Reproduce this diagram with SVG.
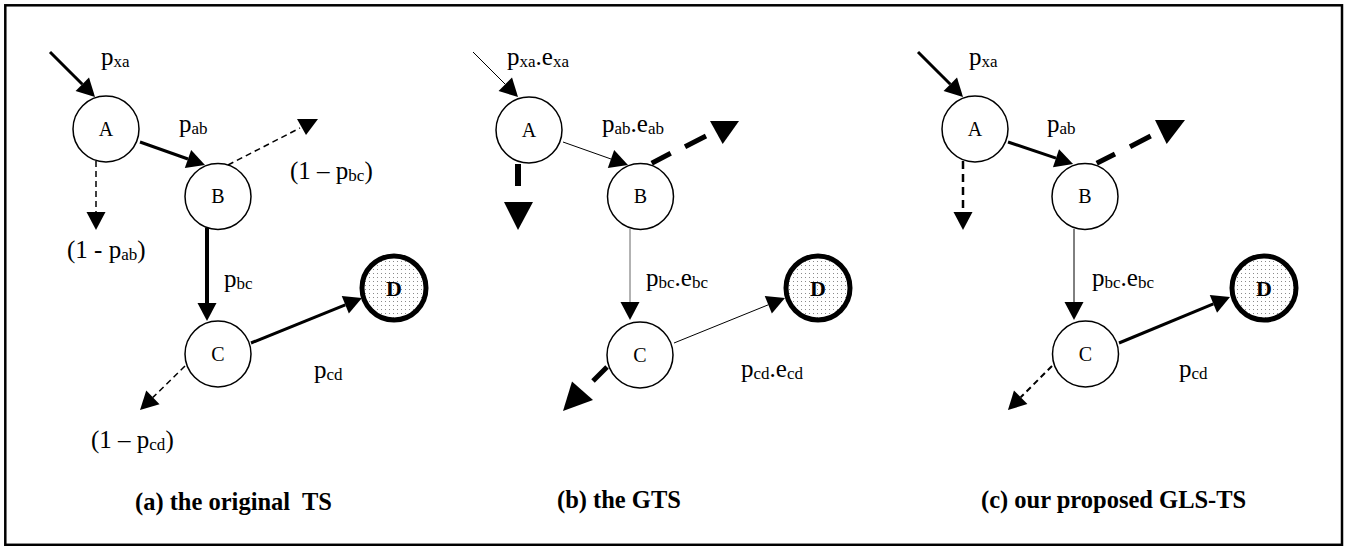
<svg xmlns="http://www.w3.org/2000/svg" width="1349" height="546" viewBox="0 0 1349 546">
<style>
.nd{fill:#fff;stroke:#000;stroke-width:1.5}
.fin{fill:url(#dots);stroke:#000;stroke-width:5}
.nl{font-family:"Liberation Serif","Times New Roman",serif;font-size:20px;fill:#000;text-anchor:middle}
.nlb{font-family:"Liberation Serif","Times New Roman",serif;font-size:22px;font-weight:bold;fill:#000;text-anchor:middle}
.lb{font-family:"Liberation Serif","Times New Roman",serif;font-size:25px;fill:#000}
.s{font-size:17px}
.cap{font-family:"Liberation Serif","Times New Roman",serif;font-size:24.5px;font-weight:bold;fill:#000}
.e{fill:none;stroke:#000}
.t1{stroke-width:1}
.t3{stroke-width:3}
.t4{stroke-width:4}
.t5{stroke-width:5}
.t6{stroke-width:6}
.d1{stroke-width:1.5;stroke-dasharray:6 4}
.d2{stroke-width:2.5;stroke-dasharray:8 5}
.ah{marker-end:url(#ah)}
.hd{fill:#000;stroke:none}
</style>
<defs>
<pattern id="dots" width="4" height="4" patternUnits="userSpaceOnUse">
<rect width="4" height="4" fill="#fff"/>
<rect x="1" y="1" width="1" height="1" fill="#8a8a8a"/>
</pattern>
<marker id="ah" markerUnits="userSpaceOnUse" markerWidth="18" markerHeight="19" refX="0" refY="9.5" orient="auto" overflow="visible">
<path d="M0,0 L18,9.5 L0,19 z" fill="#000"/>
</marker>
</defs>
<rect x="5.3" y="5.3" width="1336.7" height="539.5" fill="#fff" stroke="#000" stroke-width="2.5"/>

<g id="connectors">
<!-- panel a -->
<line class="e t3 ah" x1="50" y1="52" x2="82.3" y2="84.3"/>
<line class="e t3 ah" x1="140" y1="142" x2="188" y2="159"/>
<line class="e d1 ah" x1="96" y1="161" x2="96" y2="212"/>
<line class="e d1" x1="228" y1="165" x2="300" y2="128"/>
<polygon class="hd" points="297,119 318,119 306,135"/>
<line class="e t4 ah" x1="207" y1="228" x2="207" y2="303"/>
<line class="e t3 ah" x1="251" y1="343" x2="345.3" y2="304.8"/>
<line class="e d1 ah" x1="185" y1="366" x2="152.9" y2="397.4"/>
<!-- panel b -->
<line class="e t1 ah" x1="473" y1="52" x2="505.3" y2="84.3"/>
<line class="e t1 ah" x1="563" y1="142" x2="611" y2="159"/>
<line class="e t6" x1="518" y1="164" x2="518" y2="186"/>
<polygon class="hd" points="504,202 533,202 518,230"/>
<path class="e t5" d="M651.7,163.3 L670.7,153.3 M685,146.7 L706,136"/>
<polygon class="hd" points="710,121 739,121 722.7,144"/>
<line class="e t1 ah" x1="630" y1="229" x2="630" y2="302" style="stroke:#666"/>
<line class="e t1 ah" x1="674" y1="343" x2="768.3" y2="304.8"/>
<path class="e t5" d="M607,367 L593,381"/>
<polygon class="hd" points="572,381.5 593,400 563,411"/>
<!-- panel c -->
<line class="e t3 ah" x1="918" y1="52" x2="950.3" y2="84.3"/>
<line class="e t3 ah" x1="1008" y1="142" x2="1056" y2="158.2"/>
<line class="e d2 ah" x1="963" y1="161" x2="963" y2="212"/>
<path class="e t5" d="M1096.7,163.3 L1115,154 M1130,146.7 L1150.7,136"/>
<polygon class="hd" points="1155,120 1185,120 1166.7,144"/>
<line class="e t1 ah" x1="1074" y1="229" x2="1074" y2="302"/>
<line class="e t3 ah" x1="1119" y1="343" x2="1213.4" y2="303.9"/>
<line class="e ah" x1="1052" y1="366" x2="1020.7" y2="397.3" style="stroke-width:2;stroke-dasharray:6 4"/>
</g>

<!-- panel a nodes -->
<g id="a-A"><circle class="nd" cx="106" cy="129" r="33"/><text class="nl" x="106" y="135.5">A</text></g>
<g id="a-B"><circle class="nd" cx="218" cy="196.5" r="33"/><text class="nl" x="218" y="203">B</text></g>
<g id="a-C"><circle class="nd" cx="218" cy="354" r="33"/><text class="nl" x="218" y="360.5">C</text></g>
<g id="a-D"><circle class="fin" cx="394" cy="288" r="32"/><text class="nlb" x="394" y="295.5">D</text></g>
<!-- panel b nodes -->
<g id="b-A"><circle class="nd" cx="529" cy="130" r="33"/><text class="nl" x="529" y="136.5">A</text></g>
<g id="b-B"><circle class="nd" cx="640.5" cy="196.5" r="33"/><text class="nl" x="640.5" y="203">B</text></g>
<g id="b-C"><circle class="nd" cx="640" cy="355" r="33"/><text class="nl" x="640" y="361.5">C</text></g>
<g id="b-D"><circle class="fin" cx="818" cy="288" r="32"/><text class="nlb" x="818" y="295.5">D</text></g>
<!-- panel c nodes -->
<g id="c-A"><circle class="nd" cx="975" cy="129" r="33"/><text class="nl" x="975" y="135.5">A</text></g>
<g id="c-B"><circle class="nd" cx="1085" cy="196.5" r="33"/><text class="nl" x="1085" y="203">B</text></g>
<g id="c-C"><circle class="nd" cx="1085.5" cy="354" r="33"/><text class="nl" x="1085.5" y="360.5">C</text></g>
<g id="c-D"><circle class="fin" cx="1264" cy="288" r="32"/><text class="nlb" x="1264" y="295.5">D</text></g>

<g id="labels">
<!-- a -->
<text class="lb" x="101" y="65">p<tspan class="s" dy="2">xa</tspan></text>
<text class="lb" x="179" y="132">p<tspan class="s" dy="2">ab</tspan></text>
<text class="lb" x="290" y="179">(1 – p<tspan class="s" dy="2">bc</tspan><tspan dy="-2">)</tspan></text>
<text class="lb" x="67" y="258">(1 - p<tspan class="s" dy="2">ab</tspan><tspan dy="-2">)</tspan></text>
<text class="lb" x="224" y="287">p<tspan class="s" dy="2">bc</tspan></text>
<text class="lb" x="314" y="378">p<tspan class="s" dy="2">cd</tspan></text>
<text class="lb" x="91" y="448">(1 – p<tspan class="s" dy="2">cd</tspan><tspan dy="-2">)</tspan></text>
<text class="cap" x="135" y="510" xml:space="preserve">(a) the original  TS</text>
<!-- b -->
<text class="lb" x="507" y="65">p<tspan class="s" dy="2">xa</tspan><tspan dy="-2">.e</tspan><tspan class="s" dy="2">xa</tspan></text>
<text class="lb" x="602" y="132">p<tspan class="s" dy="2">ab</tspan><tspan dy="-2">.e</tspan><tspan class="s" dy="2">ab</tspan></text>
<text class="lb" x="646" y="286">p<tspan class="s" dy="2">bc</tspan><tspan dy="-2">.e</tspan><tspan class="s" dy="2">bc</tspan></text>
<text class="lb" x="741" y="377">p<tspan class="s" dy="2">cd</tspan><tspan dy="-2">.e</tspan><tspan class="s" dy="2">cd</tspan></text>
<text class="cap" x="557" y="508">(b) the GTS</text>
<!-- c -->
<text class="lb" x="969" y="65">p<tspan class="s" dy="2">xa</tspan></text>
<text class="lb" x="1047" y="132">p<tspan class="s" dy="2">ab</tspan></text>
<text class="lb" x="1092" y="286">p<tspan class="s" dy="2">bc</tspan><tspan dy="-2">.e</tspan><tspan class="s" dy="2">bc</tspan></text>
<text class="lb" x="1179" y="377">p<tspan class="s" dy="2">cd</tspan></text>
<text class="cap" x="981" y="508">(c) our proposed GLS-TS</text>
</g>
</svg>
